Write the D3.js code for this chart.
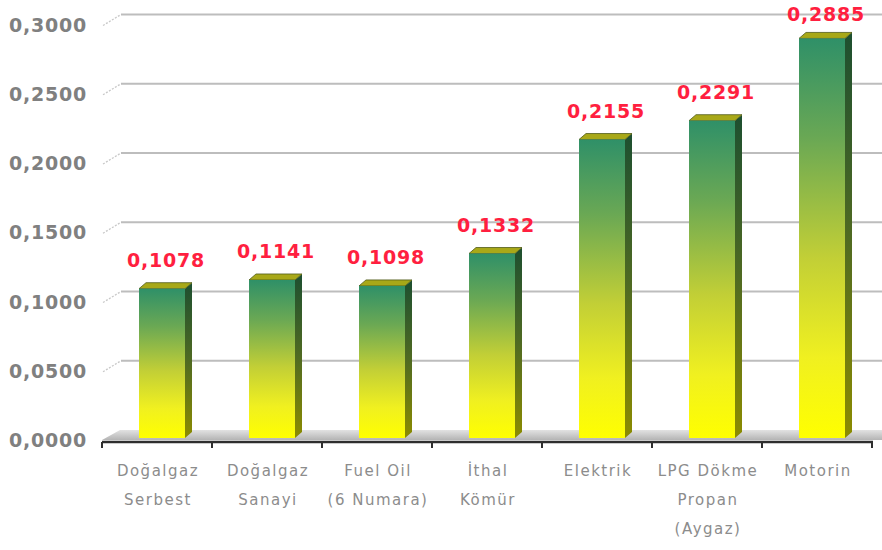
<!DOCTYPE html>
<html>
	<head>
		<meta charset="utf-8">
		<title></title>
		<style>
			body { margin: 0; background: #fff; }
		</style>
	</head>
	<body>
	<div id="chart"></div>
		<script src="https://cdn.jsdelivr.net/npm/d3@7/dist/d3.min.js"></script>

		<script>
			var categories = ["Doğalgaz\nSerbest", "Doğalgaz\nSanayi", "Fuel Oil\n(6 Numara)", "İthal\nKömür", "Elektrik", "LPG Dökme\nPropan\n(Aygaz)", "Motorin"];
			var values = [0.1078, 0.1141, 0.1098, 0.1332, 0.2155, 0.2291, 0.2885];
			var yTicks = [0, 0.05, 0.1, 0.15, 0.2, 0.25, 0.3];

			var W = 882, H = 550;
			var depthX = 18, depthY = 10;   // floor depth
			var barDx = 7, barDy = 6;       // bar depth

			var svg = d3.select('#chart').append('svg').attr('width', W).attr('height', H);

			var x = d3.scaleBand().domain(categories).range([102, 872]).padding(0);
			var y = d3.scaleLinear().domain([0, 0.3]).range([438, 22.5]);

			var fmt = function(v){ return d3.format('.4f')(v).replace('.', ','); };

			var defs = svg.append('defs');
			var g1 = defs.append('linearGradient').attr('id', 'front').attr('x1', 0).attr('y1', 0).attr('x2', 0).attr('y2', 1);
			g1.append('stop').attr('offset', '0%').attr('stop-color', '#2f9068');
			g1.append('stop').attr('offset', '25%').attr('stop-color', '#6aa854');
			g1.append('stop').attr('offset', '55%').attr('stop-color', '#c2cf36');
			g1.append('stop').attr('offset', '80%').attr('stop-color', '#f0f020');
			g1.append('stop').attr('offset', '100%').attr('stop-color', '#ffff00');

			var g2 = defs.append('linearGradient').attr('id', 'side').attr('x1', 0).attr('y1', 0).attr('x2', 0).attr('y2', 1);
			g2.append('stop').attr('offset', '0%').attr('stop-color', '#1d4f30');
			g2.append('stop').attr('offset', '50%').attr('stop-color', '#4f6a22');
			g2.append('stop').attr('offset', '100%').attr('stop-color', '#8c8c00');

			var g3 = defs.append('linearGradient').attr('id', 'floor').attr('x1', 0).attr('y1', 0).attr('x2', 0).attr('y2', 1);
			g3.append('stop').attr('offset', '0%').attr('stop-color', '#e2e2e2');
			g3.append('stop').attr('offset', '100%').attr('stop-color', '#b4b4b4');

			// floor
			svg.append('polygon')
				.attr('points', [[102, y(0) + 2], [W, y(0) + 2], [W, y(0) - depthY + 2], [102 + depthX, y(0) - depthY + 2]].join(' '))
				.attr('fill', 'url(#floor)');

			// grid lines on back wall + diagonal links
			svg.selectAll('.grid').data(yTicks.filter(function(d){ return d > 0; })).enter().append('line')
				.attr('x1', 102 + depthX + 1).attr('x2', W)
				.attr('y1', function(d){ return y(d) - 8; }).attr('y2', function(d){ return y(d) - 8; })
				.attr('stroke', '#bdbdbd').attr('stroke-width', 2);

			svg.selectAll('.link').data(yTicks.filter(function(d){ return d > 0; })).enter().append('line')
				.attr('x1', 103).attr('y1', function(d){ return y(d) + 3; })
				.attr('x2', 102 + depthX + 1).attr('y2', function(d){ return y(d) - 8; })
				.attr('stroke', '#c8c8c8').attr('stroke-width', 1.3).attr('stroke-dasharray', '2,1.5');

			// y labels
			svg.selectAll('.ylab').data(yTicks).enter().append('text')
				.attr('x', 9).attr('y', function(d){ return y(d) + 3.5; })
				.attr('dominant-baseline', 'middle')
				.style('font-family', 'DejaVu Sans').style('font-weight', 'bold').style('font-size', '19px')
				.style('letter-spacing', '0.8px').attr('fill', '#808080')
				.text(fmt);

			// bars
			var bars = svg.selectAll('.bar').data(values).enter().append('g');

			bars.append('polygon')
				.attr('points', function(d, i){
					var x0 = x(categories[i]) + 37 + 46, t = y(d), b = y(0);
					return [[x0, t], [x0 + barDx, t - barDy], [x0 + barDx, b - barDy], [x0, b]].join(' ');
				})
				.attr('fill', 'url(#side)');

			bars.append('polygon')
				.attr('points', function(d, i){
					var x0 = x(categories[i]) + 37, t = y(d);
					return [[x0, t], [x0 + 46, t], [x0 + 46 + barDx, t - barDy], [x0 + barDx, t - barDy]].join(' ');
				})
				.attr('fill', '#a8a818').attr('stroke', '#4f5a18').attr('stroke-width', 0.8);

			bars.append('rect')
				.attr('x', function(d, i){ return x(categories[i]) + 37; })
				.attr('y', function(d){ return y(d); })
				.attr('width', 46)
				.attr('height', function(d){ return y(0) - y(d); })
				.attr('fill', 'url(#front)');

			// value labels (kept inside the top edge)
			bars.append('text')
				.attr('x', function(d, i){ return x(categories[i]) + 37 + 23 + 4; })
				.attr('y', function(d){ return Math.max(y(d) - 22, 21); })
				.attr('text-anchor', 'middle')
				.style('font-family', 'DejaVu Sans').style('font-weight', 'bold').style('font-size', '19px')
				.style('letter-spacing', '0.8px').attr('fill', '#ff1f40')
				.text(fmt);

			// x axis line + ticks
			svg.append('line').attr('x1', 102).attr('x2', 873).attr('y1', 442).attr('y2', 442)
				.attr('stroke', '#2e2e2e').attr('stroke-width', 2.5);

			var tickX = categories.map(function(c){ return x(c); }).concat([x.range()[1]]);
			svg.selectAll('.tick').data(tickX).enter().append('line')
				.attr('x1', function(d){ return d; }).attr('x2', function(d){ return d; })
				.attr('y1', 442).attr('y2', 448)
				.attr('stroke', '#2e2e2e').attr('stroke-width', 2);

			// category labels
			var cl = svg.selectAll('.cat').data(categories).enter().append('text')
				.attr('text-anchor', 'middle')
				.style('font-family', 'DejaVu Sans').style('font-size', '15px')
				.style('letter-spacing', '1.5px').attr('fill', '#8c8c8c');

			cl.selectAll('tspan').data(function(d){ return d.split('\n').map(function(s){ return {t: s, c: d}; }); })
				.enter().append('tspan')
				.attr('x', function(d){ return x(d.c) + x.bandwidth() / 2 + 1; })
				.attr('y', function(d, j){ return 476 + j * 29; })
				.text(function(d){ return d.t; });

		</script>
	</body>
</html>
